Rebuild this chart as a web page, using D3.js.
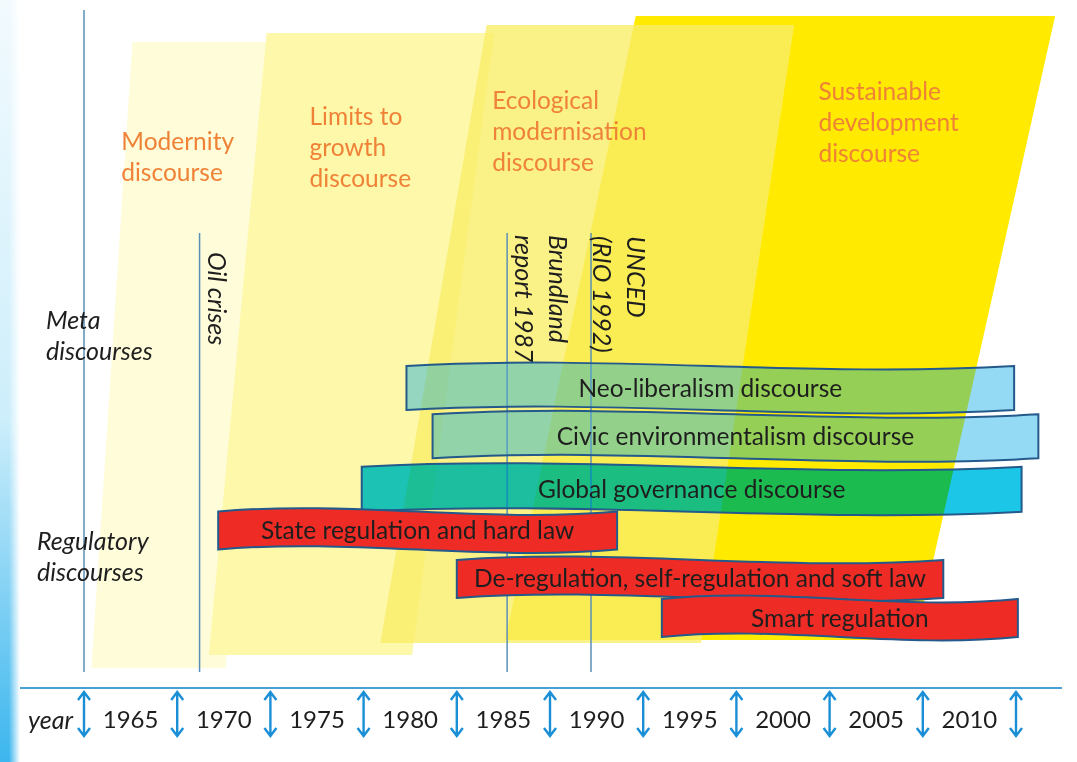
<!DOCTYPE html>
<html>
    <head>
        <meta charset="utf-8">
        <title>Discourses timeline</title>
        <script src="https://d3js.org/d3.v7.min.js"></script>
        <style>
            body { margin: 0; background: #fff; }
            text { font-family: Lato, "Open Sans", sans-serif; }
        </style>
    </head>
    <body>
        <script>

        // Year ticks on the bottom axis
        const tickYears = [1965, 1970, 1975, 1980, 1985, 1990, 1995, 2000, 2005, 2010];

        // Big slanted discourse eras (years at top and bottom corners)
        const eraNames = [["Modernity", "discourse"], ["Limits to", "growth", "discourse"],
                          ["Ecological", "modernisation", "discourse"], ["Sustainable", "development", "discourse"]];
        const eraTopStart = [1965.1, 1972.3, 1984.1, 1992.1];
        const eraTopEnd = [1973.0, 1984.5, 2000.6, 2014.6];
        const eraBottomStart = [1962.9, 1969.2, 1978.4, 1985.1];
        const eraBottomEnd = [1970.1, 1980.1, 1995.6, 2007.1];
        const eraLabelYear = [1964.5, 1974.6, 1984.4, 2001.9];

        // Events marked with vertical lines
        const eventNames = [["Oil crises"], ["Brundland", "report 1987"], ["UNCED", "(RIO 1992)"]];
        const eventYears = [1968.7, 1985.2, 1989.7];

        // Banners (meta and regulatory discourses)
        const bannerNames = ["Neo-liberalism discourse", "Civic environmentalism discourse", "Global governance discourse",
                             "State regulation and hard law", "De-regulation, self-regulation and soft law", "Smart regulation"];
        const bannerStart = [1979.8, 1981.2, 1977.4, 1969.7, 1982.5, 1993.5];
        const bannerEnd = [2012.4, 2013.7, 2012.8, 1991.1, 2008.6, 2012.6];
        const bannerLane = [0, 1.05, 2.2, 3.1, 4.15, 5];
        const bannerKind = ["meta", "meta", "global", "reg", "reg", "reg"];

        const svgWidth = 1077;
        const svgHeight = 762;

        const svg = d3.select("body").append("svg")
            .attr("width", svgWidth)
            .attr("height", svgHeight);

        const xScale = d3.scaleLinear().domain([1962.5, 2012.5]).range([84, 1016]);
        const laneScale = d3.scaleLinear().domain([0, 5]).range([388, 618]);

        // left decorative strip
        const defs = svg.append("defs");
        const vg = defs.append("linearGradient").attr("id", "stripV")
            .attr("x1", 0).attr("y1", 0).attr("x2", 0).attr("y2", 1);
        vg.append("stop").attr("offset", "0%").attr("stop-color", "#f2fafe");
        vg.append("stop").attr("offset", "55%").attr("stop-color", "#cdeefb");
        vg.append("stop").attr("offset", "100%").attr("stop-color", "#3cb6ee");
        const hg = defs.append("linearGradient").attr("id", "stripH");
        hg.append("stop").attr("offset", "0%").attr("stop-color", "#fff");
        hg.append("stop").attr("offset", "45%").attr("stop-color", "#fff");
        hg.append("stop").attr("offset", "100%").attr("stop-color", "#000");
        defs.append("mask").attr("id", "stripMask")
            .append("rect").attr("width", 20).attr("height", svgHeight).attr("fill", "url(#stripH)");
        svg.append("rect").attr("width", 20).attr("height", svgHeight)
            .attr("fill", "url(#stripV)").attr("mask", "url(#stripMask)");

        // eras
        const eraTop = [42, 33, 25, 16];
        const eraBottom = [668, 655, 643, 640];
        const eraFill = ["#fefcd9", "#fdf8aa", "rgba(249,238,105,0.8)", "#ffea00"];
        const drawOrder = [0, 1, 3, 2];

        svg.append("g").selectAll("path")
            .data(drawOrder)
            .join("path")
            .attr("d", i => `M${xScale(eraTopStart[i])},${eraTop[i]} L${xScale(eraTopEnd[i])},${eraTop[i]}
                L${xScale(eraBottomEnd[i])},${eraBottom[i]} L${xScale(eraBottomStart[i])},${eraBottom[i]} Z`)
            .attr("fill", i => eraFill[i]);

        const eraLabelTop = [141, 116, 100, 91];
        eraNames.forEach((lines, i) => {
            svg.append("text")
                .attr("x", xScale(eraLabelYear[i]))
                .attr("y", eraLabelTop[i])
                .attr("fill", "#ef8237")
                .attr("font-size", 24.5)
                .selectAll("tspan")
                .data(lines)
                .join("tspan")
                .attr("x", xScale(eraLabelYear[i]))
                .attr("dy", (d, j) => j === 0 ? "0.35em" : 31)
                .text(d => d);
        });

        // left axis line
        svg.append("line")
            .attr("x1", xScale(1962.5)).attr("x2", xScale(1962.5))
            .attr("y1", 10).attr("y2", 672)
            .attr("stroke", "#5b8fb6").attr("stroke-width", 1.5);

        // event lines and labels
        const eventShift = [8, 8, 2];
        const eventTextTop = [252, 235, 236];
        eventYears.forEach((yr, i) => {
            const x = xScale(yr);
            svg.append("line")
                .attr("x1", x).attr("x2", x).attr("y1", 233).attr("y2", 672)
                .attr("stroke", "#5b8fb6").attr("stroke-width", 1.5);
            const lines = eventNames[i];
            lines.forEach((t, j) => {
                const bx = x + eventShift[i] + (lines.length - 1 - j) * 34;
                svg.append("text")
                    .attr("transform", `translate(${bx},${eventTextTop[i]}) rotate(90)`)
                    .attr("font-size", 25)
                    .attr("font-style", "italic")
                    .attr("fill", "#1e1e1e")
                    .text(t);
            });
        });

        // side labels
        const sideLabels = [
            { lines: ["Meta", "discourses"], x: 46, y: 320 },
            { lines: ["Regulatory", "discourses"], x: 37, y: 541 }
        ];
        sideLabels.forEach(s => {
            svg.append("text")
                .attr("font-size", 25)
                .attr("font-style", "italic")
                .attr("fill", "#1e1e1e")
                .selectAll("tspan")
                .data(s.lines)
                .join("tspan")
                .attr("x", s.x)
                .attr("y", (d, j) => s.y + j * 31)
                .attr("dy", "0.35em")
                .text(d => d);
        });

        // banners
        const bannerHeight = { meta: 44, global: 45, reg: 38 };
        const bannerFill = { meta: "#95dbf4", global: "#1cc6e6", reg: "#ee2b24" };

        function wave(x0, x1, yc, h) {
            const w = x1 - x0, amp = 12;
            const yT = yc - h / 2, yB = yc + h / 2;
            return `M${x0},${yT} C${x0 + w / 3},${yT - amp} ${x0 + 2 * w / 3},${yT + amp} ${x1},${yT}
                L${x1},${yB} C${x0 + 2 * w / 3},${yB + amp} ${x0 + w / 3},${yB - amp} ${x0},${yB} Z`;
        }

        const banners = svg.append("g");
        bannerNames.forEach((name, i) => {
            const kind = bannerKind[i];
            const d = wave(xScale(bannerStart[i]), xScale(bannerEnd[i]), laneScale(bannerLane[i]), bannerHeight[kind]);
            if (kind !== "reg") {
                banners.append("path").attr("d", d)
                    .attr("fill", bannerFill[kind])
                    .style("mix-blend-mode", "multiply");
                banners.append("path").attr("d", d)
                    .attr("fill", bannerFill[kind]).attr("fill-opacity", 0.35)
                    .attr("stroke", "#24598c").attr("stroke-width", 2);
            } else {
                banners.append("path").attr("d", d)
                    .attr("fill", bannerFill[kind])
                    .attr("stroke", "#24598c").attr("stroke-width", 2);
            }
            banners.append("text")
                .attr("x", (xScale(bannerStart[i]) + xScale(bannerEnd[i])) / 2)
                .attr("y", laneScale(bannerLane[i]))
                .attr("dy", "0.35em")
                .attr("text-anchor", "middle")
                .attr("font-size", 24.5)
                .attr("fill", "#1e1e1e")
                .text(name);
        });

        // bottom axis
        const axisY = 688;
        svg.append("line")
            .attr("x1", 20).attr("x2", 1062).attr("y1", axisY).attr("y2", axisY)
            .attr("stroke", "#4a9fd6").attr("stroke-width", 2);

        const boundaries = tickYears.map(y => y - 2.5).concat([tickYears[tickYears.length - 1] + 2.5]);
        svg.append("g")
            .attr("stroke", "#1b8fd6").attr("stroke-width", 2.4).attr("fill", "none")
            .selectAll("path")
            .data(boundaries)
            .join("path")
            .attr("d", b => {
                const x = xScale(b);
                return `M${x},692 L${x},736 M${x - 6},700 L${x},692 L${x + 6},700 M${x - 6},728 L${x},736 L${x + 6},728`;
            });

        svg.append("g").selectAll("text")
            .data(tickYears)
            .join("text")
            .attr("x", d => xScale(d))
            .attr("y", 720)
            .attr("dy", "0.35em")
            .attr("text-anchor", "middle")
            .attr("font-size", 24)
            .attr("fill", "#1e1e1e")
            .text(d => d);

        svg.append("text")
            .attr("x", 28).attr("y", 720).attr("dy", "0.35em")
            .attr("font-size", 25).attr("font-style", "italic")
            .attr("fill", "#1e1e1e")
            .text("year");

        </script>
    </body>
</html>
